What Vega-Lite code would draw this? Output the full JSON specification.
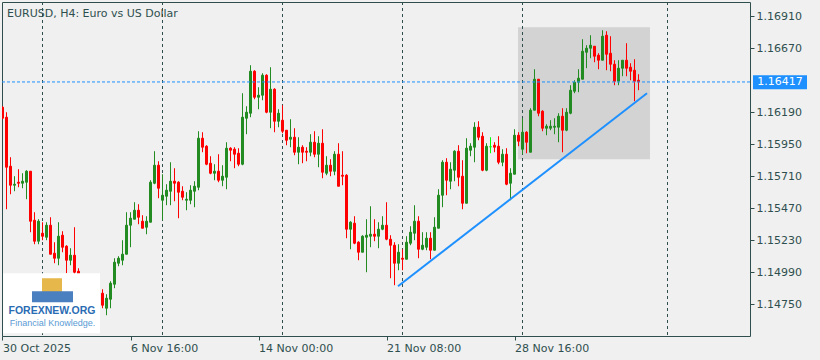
{
"$schema":"https://vega.github.io/schema/vega-lite/v6.json",
"width":748,"height":334,
"autosize":{"type":"none"},
"padding":{"left":2,"top":2,"right":70,"bottom":24},
"background":"#f0f0f0",
"config":{"view":{"stroke":"#2f4f4f","strokeWidth":1},"font":"DejaVu Sans","scale":{"continuousPadding":0}},
"resolve":{"axis":{"x":"independent","y":"independent"},"scale":{"color":"independent","stroke":"independent"}},
"datasets":{
"candles":[
{"i":0,"o":1.162275,"h":1.16235,"l":1.161375,"c":1.16145},
{"i":1,"o":1.161525,"h":1.1619,"l":1.154625,"c":1.157775},
{"i":2,"o":1.15785,"h":1.158525,"l":1.15575,"c":1.156425},
{"i":3,"o":1.156425,"h":1.1571,"l":1.155975,"c":1.1565},
{"i":4,"o":1.15665,"h":1.157625,"l":1.156275,"c":1.156575},
{"i":5,"o":1.156575,"h":1.157325,"l":1.1562,"c":1.156725},
{"i":6,"o":1.15665,"h":1.15755,"l":1.155375,"c":1.157475},
{"i":7,"o":1.157475,"h":1.157475,"l":1.1529,"c":1.153725},
{"i":8,"o":1.1538,"h":1.1544,"l":1.152,"c":1.152225},
{"i":9,"o":1.152225,"h":1.153875,"l":1.152,"c":1.153725},
{"i":10,"o":1.152825,"h":1.15365,"l":1.1523,"c":1.1526},
{"i":11,"o":1.152525,"h":1.15365,"l":1.1523,"c":1.153425},
{"i":12,"o":1.153425,"h":1.154025,"l":1.15125,"c":1.15125},
{"i":13,"o":1.151325,"h":1.15215,"l":1.150575,"c":1.15095},
{"i":14,"o":1.15095,"h":1.15365,"l":1.150425,"c":1.1526},
{"i":15,"o":1.152675,"h":1.152975,"l":1.1514,"c":1.151775},
{"i":16,"o":1.15185,"h":1.151925,"l":1.149825,"c":1.1508},
{"i":17,"o":1.1508,"h":1.1517,"l":1.150425,"c":1.151175},
{"i":18,"o":1.151175,"h":1.153275,"l":1.149675,"c":1.1499},
{"i":19,"o":1.149975,"h":1.1502,"l":1.14915,"c":1.149525},
{"i":20,"o":1.149525,"h":1.14975,"l":1.1487,"c":1.149},
{"i":21,"o":1.149,"h":1.1496,"l":1.14855,"c":1.1493},
{"i":22,"o":1.1493,"h":1.14945,"l":1.14825,"c":1.14855},
{"i":23,"o":1.14855,"h":1.149075,"l":1.1481,"c":1.148775},
{"i":24,"o":1.148775,"h":1.148925,"l":1.1478,"c":1.14825},
{"i":25,"o":1.148325,"h":1.148625,"l":1.1472,"c":1.147425},
{"i":26,"o":1.1472,"h":1.14825,"l":1.146675,"c":1.14795},
{"i":27,"o":1.147875,"h":1.149225,"l":1.1472,"c":1.149075},
{"i":28,"o":1.149,"h":1.15095,"l":1.1487,"c":1.15065},
{"i":29,"o":1.150575,"h":1.1511,"l":1.15035,"c":1.15095},
{"i":30,"o":1.1508,"h":1.1523,"l":1.150425,"c":1.15125},
{"i":31,"o":1.15125,"h":1.1544,"l":1.15125,"c":1.153425},
{"i":32,"o":1.153425,"h":1.1544,"l":1.151775,"c":1.15395},
{"i":33,"o":1.153875,"h":1.15515,"l":1.153875,"c":1.15455},
{"i":34,"o":1.15455,"h":1.155,"l":1.1535,"c":1.154025},
{"i":35,"o":1.153725,"h":1.154175,"l":1.1532,"c":1.1532},
{"i":36,"o":1.153275,"h":1.1541,"l":1.15275,"c":1.153725},
{"i":37,"o":1.15365,"h":1.1568,"l":1.15365,"c":1.15665},
{"i":38,"o":1.156575,"h":1.158975,"l":1.1565,"c":1.157925},
{"i":39,"o":1.157925,"h":1.158225,"l":1.15545,"c":1.1562},
{"i":40,"o":1.1553,"h":1.15725,"l":1.1538,"c":1.155675},
{"i":41,"o":1.1556,"h":1.1565,"l":1.154925,"c":1.15605},
{"i":42,"o":1.155975,"h":1.15815,"l":1.154925,"c":1.156725},
{"i":43,"o":1.156725,"h":1.1577,"l":1.155225,"c":1.156575},
{"i":44,"o":1.15665,"h":1.156725,"l":1.15395,"c":1.1559},
{"i":45,"o":1.155975,"h":1.15635,"l":1.1553,"c":1.155525},
{"i":46,"o":1.1553,"h":1.1559,"l":1.15455,"c":1.155375},
{"i":47,"o":1.1553,"h":1.156425,"l":1.155,"c":1.15605},
{"i":48,"o":1.155975,"h":1.156725,"l":1.154775,"c":1.15635},
{"i":49,"o":1.156275,"h":1.160475,"l":1.15605,"c":1.15995},
{"i":50,"o":1.15995,"h":1.1604,"l":1.1589,"c":1.159275},
{"i":51,"o":1.15935,"h":1.159425,"l":1.157925,"c":1.158},
{"i":52,"o":1.158075,"h":1.1586,"l":1.15725,"c":1.157325},
{"i":53,"o":1.157325,"h":1.158,"l":1.1568,"c":1.157475},
{"i":54,"o":1.157475,"h":1.15875,"l":1.15665,"c":1.1568},
{"i":55,"o":1.1568,"h":1.157925,"l":1.15635,"c":1.1571},
{"i":56,"o":1.157025,"h":1.15965,"l":1.156125,"c":1.1592},
{"i":57,"o":1.1592,"h":1.159275,"l":1.158225,"c":1.15905},
{"i":58,"o":1.159125,"h":1.159275,"l":1.1577,"c":1.15875},
{"i":59,"o":1.158825,"h":1.1592,"l":1.15785,"c":1.158},
{"i":60,"o":1.158,"h":1.163325,"l":1.157925,"c":1.161525},
{"i":61,"o":1.16145,"h":1.16235,"l":1.16025,"c":1.1619},
{"i":62,"o":1.161825,"h":1.165425,"l":1.161525,"c":1.164975},
{"i":63,"o":1.164975,"h":1.16505,"l":1.162875,"c":1.163025},
{"i":64,"o":1.163025,"h":1.163775,"l":1.162125,"c":1.163175},
{"i":65,"o":1.163175,"h":1.164825,"l":1.1628,"c":1.164675},
{"i":66,"o":1.164675,"h":1.16475,"l":1.161825,"c":1.1619},
{"i":67,"o":1.1619,"h":1.165275,"l":1.1607,"c":1.163625},
{"i":68,"o":1.163625,"h":1.1637,"l":1.1604,"c":1.161225},
{"i":69,"o":1.161225,"h":1.162125,"l":1.160775,"c":1.161825},
{"i":70,"o":1.1613,"h":1.162425,"l":1.160325,"c":1.160475},
{"i":71,"o":1.16055,"h":1.16055,"l":1.159425,"c":1.1598},
{"i":72,"o":1.159875,"h":1.161375,"l":1.159275,"c":1.160025},
{"i":73,"o":1.160025,"h":1.1607,"l":1.158675,"c":1.1589},
{"i":74,"o":1.1589,"h":1.160025,"l":1.158,"c":1.159275},
{"i":75,"o":1.159275,"h":1.159425,"l":1.158075,"c":1.1589},
{"i":76,"o":1.158975,"h":1.159275,"l":1.158225,"c":1.1589},
{"i":77,"o":1.1589,"h":1.16025,"l":1.1586,"c":1.15965},
{"i":78,"o":1.15965,"h":1.160475,"l":1.158525,"c":1.15875},
{"i":79,"o":1.15875,"h":1.1601,"l":1.157775,"c":1.159575},
{"i":80,"o":1.159575,"h":1.160625,"l":1.15695,"c":1.1574},
{"i":81,"o":1.157325,"h":1.1586,"l":1.157175,"c":1.157925},
{"i":82,"o":1.157925,"h":1.158375,"l":1.1571,"c":1.157475},
{"i":83,"o":1.157475,"h":1.158975,"l":1.157175,"c":1.15875},
{"i":84,"o":1.15875,"h":1.159575,"l":1.15635,"c":1.15635},
{"i":85,"o":1.157175,"h":1.158975,"l":1.156425,"c":1.1571},
{"i":86,"o":1.157175,"h":1.15725,"l":1.15245,"c":1.153125},
{"i":87,"o":1.153125,"h":1.153725,"l":1.151625,"c":1.15365},
{"i":88,"o":1.153575,"h":1.1541,"l":1.152,"c":1.152075},
{"i":89,"o":1.15215,"h":1.152225,"l":1.1508,"c":1.1514},
{"i":90,"o":1.1514,"h":1.152675,"l":1.1514,"c":1.1526},
{"i":91,"o":1.152525,"h":1.153875,"l":1.1499,"c":1.152675},
{"i":92,"o":1.1526,"h":1.15485,"l":1.151775,"c":1.15275},
{"i":93,"o":1.15275,"h":1.153875,"l":1.152225,"c":1.1526},
{"i":94,"o":1.1526,"h":1.15365,"l":1.1517,"c":1.153125},
{"i":95,"o":1.153125,"h":1.1541,"l":1.15305,"c":1.153425},
{"i":96,"o":1.153425,"h":1.15515,"l":1.1523,"c":1.152375},
{"i":97,"o":1.152375,"h":1.152675,"l":1.14945,"c":1.151925},
{"i":98,"o":1.151925,"h":1.15215,"l":1.148925,"c":1.150575},
{"i":99,"o":1.150575,"h":1.152,"l":1.15005,"c":1.1514},
{"i":100,"o":1.15095,"h":1.151625,"l":1.15005,"c":1.150875},
{"i":101,"o":1.150875,"h":1.1526,"l":1.150875,"c":1.15215},
{"i":102,"o":1.152075,"h":1.15335,"l":1.151925,"c":1.1529},
{"i":103,"o":1.152825,"h":1.154925,"l":1.1523,"c":1.153725},
{"i":104,"o":1.153725,"h":1.1541,"l":1.15095,"c":1.151625},
{"i":105,"o":1.151625,"h":1.1529,"l":1.15155,"c":1.151925},
{"i":106,"o":1.151775,"h":1.1529,"l":1.15155,"c":1.15245},
{"i":107,"o":1.15245,"h":1.1529,"l":1.150875,"c":1.15155},
{"i":108,"o":1.15155,"h":1.154025,"l":1.15155,"c":1.153275},
{"i":109,"o":1.1532,"h":1.156125,"l":1.1532,"c":1.155675},
{"i":110,"o":1.155675,"h":1.1583,"l":1.154775,"c":1.15815},
{"i":111,"o":1.15815,"h":1.15845,"l":1.155675,"c":1.1568},
{"i":112,"o":1.156725,"h":1.15815,"l":1.156125,"c":1.157625},
{"i":113,"o":1.15755,"h":1.15905,"l":1.156725,"c":1.158975},
{"i":114,"o":1.158975,"h":1.159425,"l":1.15635,"c":1.157025},
{"i":115,"o":1.1571,"h":1.1583,"l":1.154625,"c":1.155075},
{"i":116,"o":1.155075,"h":1.15995,"l":1.155075,"c":1.1592},
{"i":117,"o":1.15905,"h":1.159575,"l":1.1586,"c":1.15935},
{"i":118,"o":1.159275,"h":1.16115,"l":1.15815,"c":1.160775},
{"i":119,"o":1.160775,"h":1.161225,"l":1.1598,"c":1.160025},
{"i":120,"o":1.1601,"h":1.1604,"l":1.157475,"c":1.15755},
{"i":121,"o":1.15755,"h":1.159575,"l":1.157475,"c":1.15935},
{"i":122,"o":1.15931,"h":1.160025,"l":1.158825,"c":1.15931},
{"i":123,"o":1.159425,"h":1.15965,"l":1.1589,"c":1.159275},
{"i":124,"o":1.15935,"h":1.1601,"l":1.158,"c":1.15815},
{"i":125,"o":1.15815,"h":1.159125,"l":1.15785,"c":1.15875},
{"i":126,"o":1.15875,"h":1.1592,"l":1.156425,"c":1.1565},
{"i":127,"o":1.156575,"h":1.1577,"l":1.1553,"c":1.157325},
{"i":128,"o":1.15725,"h":1.160625,"l":1.15725,"c":1.160175},
{"i":129,"o":1.160175,"h":1.1604,"l":1.15935,"c":1.159725},
{"i":130,"o":1.159125,"h":1.16145,"l":1.15875,"c":1.1604},
{"i":131,"o":1.1604,"h":1.160475,"l":1.158825,"c":1.15965},
{"i":132,"o":1.1589,"h":1.1622,"l":1.1589,"c":1.16205},
{"i":133,"o":1.16205,"h":1.165125,"l":1.16205,"c":1.164375},
{"i":134,"o":1.164375,"h":1.164375,"l":1.1616,"c":1.161825},
{"i":135,"o":1.161975,"h":1.16205,"l":1.160475,"c":1.1607},
{"i":136,"o":1.1607,"h":1.161,"l":1.160175,"c":1.16085},
{"i":137,"o":1.1607,"h":1.1613,"l":1.16055,"c":1.16085},
{"i":138,"o":1.160775,"h":1.16145,"l":1.16025,"c":1.16085},
{"i":139,"o":1.160775,"h":1.161825,"l":1.15965,"c":1.1616},
{"i":140,"o":1.1616,"h":1.1622,"l":1.1589,"c":1.16055},
{"i":141,"o":1.16055,"h":1.1622,"l":1.160475,"c":1.1619},
{"i":142,"o":1.161825,"h":1.163925,"l":1.16175,"c":1.16355},
{"i":143,"o":1.163475,"h":1.1643,"l":1.163325,"c":1.16415},
{"i":144,"o":1.16415,"h":1.165125,"l":1.1634,"c":1.16445},
{"i":145,"o":1.164375,"h":1.167375,"l":1.164375,"c":1.166475},
{"i":146,"o":1.1664,"h":1.166925,"l":1.1652,"c":1.1667},
{"i":147,"o":1.1667,"h":1.167675,"l":1.16595,"c":1.166925},
{"i":148,"o":1.16685,"h":1.16685,"l":1.16565,"c":1.1661},
{"i":149,"o":1.166175,"h":1.166325,"l":1.165125,"c":1.1658},
{"i":150,"o":1.1658,"h":1.16805,"l":1.1658,"c":1.1676},
{"i":151,"o":1.167675,"h":1.167975,"l":1.16505,"c":1.16625},
{"i":152,"o":1.166325,"h":1.1676,"l":1.164975,"c":1.1655},
{"i":153,"o":1.1655,"h":1.1658,"l":1.163925,"c":1.164225},
{"i":154,"o":1.164225,"h":1.1658,"l":1.163925,"c":1.1652},
{"i":155,"o":1.1652,"h":1.1658,"l":1.1646,"c":1.1658},
{"i":156,"o":1.1658,"h":1.167075,"l":1.1646,"c":1.1652},
{"i":157,"o":1.165275,"h":1.165575,"l":1.1643,"c":1.164975},
{"i":158,"o":1.16505,"h":1.165875,"l":1.162725,"c":1.164225},
{"i":159,"o":1.1643,"h":1.16475,"l":1.16355,"c":1.16417}
]},
"layer":[
{"data":{"values":[{"x1":128.875,"x2":161.875,"p1":1.168275,"p2":1.158375}]},
 "mark":{"type":"rect","color":"#d3d3d3"},
 "encoding":{
  "x":{"field":"x1","type":"quantitative","scale":{"domain":[-0.125,186.875],"nice":false,"zero":false,"padding":0},"axis":null},
  "x2":{"field":"x2"},
  "y":{"field":"p1","type":"quantitative","scale":{"domain":[1.1451175,1.1701675],"nice":false,"zero":false},"axis":null},
  "y2":{"field":"p2"}}},
{"data":{"values":[{"i":10},{"i":40},{"i":70},{"i":100},{"i":130},{"i":166.25}]},
 "mark":{"type":"rule","color":"#2f4f4f","strokeWidth":1,"strokeDash":[3,3]},
 "encoding":{"x":{"field":"i","type":"quantitative","scale":{"domain":[-0.125,186.875],"nice":false,"zero":false,"padding":0},"axis":null}}},
{"data":{"name":"candles"},
 "transform":[{"calculate":"datum.c > datum.o ? 'up' : (datum.c < datum.o ? 'down' : 'doji')","as":"t"}],
 "mark":{"type":"rule","strokeWidth":1,"clip":true},
 "encoding":{
  "x":{"field":"i","type":"quantitative","scale":{"domain":[-0.125,186.875],"nice":false,"zero":false,"padding":0},
   "axis":{"orient":"bottom","values":[0,32,64,96,128],"labelExpr":"datum.value==0?'30 Oct 2025':datum.value==32?'6 Nov 16:00':datum.value==64?'14 Nov 00:00':datum.value==96?'21 Nov 08:00':'28 Nov 16:00'","labelAlign":"left","labelBaseline":"top","labelPadding":2,"tickSize":4,"tickColor":"#2f4f4f","domain":false,"grid":false,"labelOverlap":false,"labelFlush":false,"labelBound":false,"title":null,"labelColor":"#2f4f4f","labelFont":"DejaVu Sans","labelFontSize":11}},
  "y":{"field":"l","type":"quantitative","scale":{"domain":[1.1451175,1.1701675],"nice":false,"zero":false},
   "axis":{"orient":"right","values":[1.1475,1.1499,1.1523,1.1547,1.1571,1.1595,1.1619,1.1667,1.1691],"format":".5f","domain":false,"grid":false,"tickSize":4,"tickColor":"#2f4f4f","labelColor":"#2f4f4f","labelFont":"DejaVu Sans","labelFontSize":11,"labelPadding":2,"title":null,"labelOverlap":false,"labelBound":false}},
  "y2":{"field":"h"},
  "color":{"field":"t","type":"nominal","scale":{"domain":["up","down","doji"],"range":["#228b22","#ff0000","#00ff00"]},"legend":null}}},
{"data":{"name":"candles"},
 "transform":[{"calculate":"datum.c > datum.o ? 'up' : (datum.c < datum.o ? 'down' : 'doji')","as":"t"}],
 "mark":{"type":"bar","size":2,"strokeWidth":1,"clip":true},
 "encoding":{
  "x":{"field":"i","type":"quantitative","scale":{"domain":[-0.125,186.875],"nice":false,"zero":false,"padding":0},"axis":null},
  "y":{"field":"o","type":"quantitative","scale":{"domain":[1.1451175,1.1701675],"nice":false,"zero":false},"axis":null},
  "y2":{"field":"c"},
  "color":{"field":"t","type":"nominal","scale":{"domain":["up","down","doji"],"range":["#228b22","#ff0000","#00ff00"]},"legend":null},
  "stroke":{"field":"t","type":"nominal","scale":{"domain":["up","down","doji"],"range":["#228b22","#ff0000","#00ff00"]},"legend":null}}},
{"data":{"values":[{"p":1.16417}]},
 "mark":{"type":"rule","color":"#1e90ff","strokeWidth":1,"strokeDash":[3,2]},
 "encoding":{"y":{"field":"p","type":"quantitative","scale":{"domain":[1.1451175,1.1701675],"nice":false,"zero":false},"axis":null}}},
{"data":{"values":[{"i":98.875,"p":1.14885},{"i":161.125,"p":1.163325}]},
 "mark":{"type":"line","color":"#1e90ff","strokeWidth":2},
 "encoding":{
  "x":{"field":"i","type":"quantitative","scale":{"domain":[-0.125,186.875],"nice":false,"zero":false,"padding":0},"axis":null},
  "y":{"field":"p","type":"quantitative","scale":{"domain":[1.1451175,1.1701675],"nice":false,"zero":false},"axis":null}}},
{"data":{"values":[{"x1":0.125,"x2":24.375,"p1":1.149825,"p2":1.145325}]},
 "mark":{"type":"rect","color":"#ffffff"},
 "encoding":{
  "x":{"field":"x1","type":"quantitative","scale":{"domain":[-0.125,186.875],"nice":false,"zero":false,"padding":0},"axis":null},
  "x2":{"field":"x2"},
  "y":{"field":"p1","type":"quantitative","scale":{"domain":[1.1451175,1.1701675],"nice":false,"zero":false},"axis":null},
  "y2":{"field":"p2"}}},
{"data":{"values":[{"x1":9.875,"x2":14.875,"p1":1.14945,"p2":1.148325}]},
 "mark":{"type":"rect","color":"#e6b84c"},
 "encoding":{
  "x":{"field":"x1","type":"quantitative","scale":{"domain":[-0.125,186.875],"nice":false,"zero":false,"padding":0},"axis":null},
  "x2":{"field":"x2"},
  "y":{"field":"p1","type":"quantitative","scale":{"domain":[1.1451175,1.1701675],"nice":false,"zero":false},"axis":null},
  "y2":{"field":"p2"}}},
{"data":{"values":[{"x1":7.375,"x2":17.625,"p1":1.148475,"p2":1.14765}]},
 "mark":{"type":"rect","color":"#4a7fc0"},
 "encoding":{
  "x":{"field":"x1","type":"quantitative","scale":{"domain":[-0.125,186.875],"nice":false,"zero":false,"padding":0},"axis":null},
  "x2":{"field":"x2"},
  "y":{"field":"p1","type":"quantitative","scale":{"domain":[1.1451175,1.1701675],"nice":false,"zero":false},"axis":null},
  "y2":{"field":"p2"}}},
{"data":{"values":[{"i":12.375,"p":1.14675,"txt":"FOREXNEW.ORG"}]},
 "mark":{"type":"text","font":"Liberation Sans","fontWeight":"bold","fontSize":10.5,"color":"#2a6cb3","align":"center","baseline":"alphabetic"},
 "encoding":{
  "x":{"field":"i","type":"quantitative","scale":{"domain":[-0.125,186.875],"nice":false,"zero":false,"padding":0},"axis":null},
  "y":{"field":"p","type":"quantitative","scale":{"domain":[1.1451175,1.1701675],"nice":false,"zero":false},"axis":null},
  "text":{"field":"txt"}}},
{"data":{"values":[{"i":12.5,"p":1.14585,"txt":"Financial Knowledge."}]},
 "mark":{"type":"text","font":"Liberation Sans","fontSize":9,"color":"#5a9bd4","align":"center","baseline":"alphabetic"},
 "encoding":{
  "x":{"field":"i","type":"quantitative","scale":{"domain":[-0.125,186.875],"nice":false,"zero":false,"padding":0},"axis":null},
  "y":{"field":"p","type":"quantitative","scale":{"domain":[1.1451175,1.1701675],"nice":false,"zero":false},"axis":null},
  "text":{"field":"txt"}}},
{"data":{"values":[{"x1":187.625,"x2":201.125,"p1":1.164675,"p2":1.163625}]},
 "mark":{"type":"rect","color":"#1e90ff"},
 "encoding":{
  "x":{"field":"x1","type":"quantitative","scale":{"domain":[-0.125,186.875],"nice":false,"zero":false,"padding":0},"axis":null},
  "x2":{"field":"x2"},
  "y":{"field":"p1","type":"quantitative","scale":{"domain":[1.1451175,1.1701675],"nice":false,"zero":false},"axis":null},
  "y2":{"field":"p2"}}},
{"data":{"values":[{"i":194.375,"p":1.16417,"txt":"1.16417"}]},
 "mark":{"type":"text","font":"DejaVu Sans","fontSize":11,"color":"#ffffff","align":"center","baseline":"middle"},
 "encoding":{
  "x":{"field":"i","type":"quantitative","scale":{"domain":[-0.125,186.875],"nice":false,"zero":false,"padding":0},"axis":null},
  "y":{"field":"p","type":"quantitative","scale":{"domain":[1.1451175,1.1701675],"nice":false,"zero":false},"axis":null},
  "text":{"field":"txt"}}},
{"data":{"values":[{"i":1.125,"p":1.1690625,"txt":"EURUSD, H4:  Euro vs US Dollar"}]},
 "mark":{"type":"text","font":"DejaVu Sans","fontSize":11,"color":"#2f4f4f","align":"left","baseline":"alphabetic"},
 "encoding":{
  "x":{"field":"i","type":"quantitative","scale":{"domain":[-0.125,186.875],"nice":false,"zero":false,"padding":0},"axis":null},
  "y":{"field":"p","type":"quantitative","scale":{"domain":[1.1451175,1.1701675],"nice":false,"zero":false},"axis":null},
  "text":{"field":"txt"}}}
]
}
